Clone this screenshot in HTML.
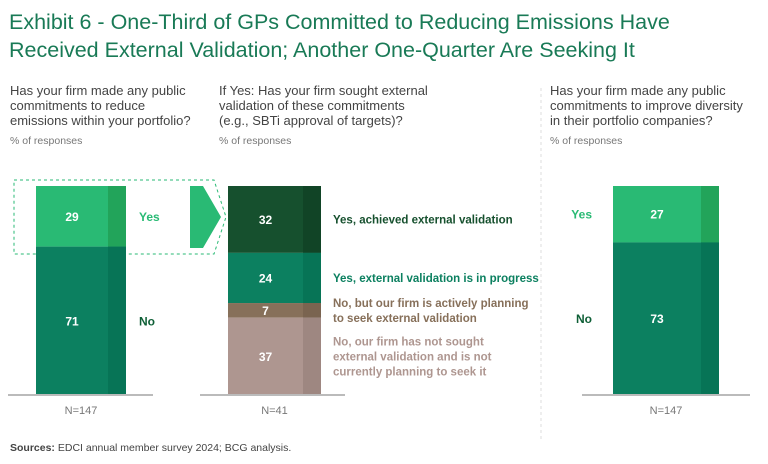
<!DOCTYPE html>
<html><head><meta charset="utf-8"><style>
body{margin:0;width:768px;height:464px;background:#fff;overflow:hidden;font-family:"Liberation Sans",sans-serif}
svg{display:block}
</style></head><body>
<svg id="c" width="768" height="464">
<text x="9" y="29" font-size="21.5" fill="#197a56">Exhibit 6 - One-Third of GPs Committed to Reducing Emissions Have</text>
<text x="9" y="57" font-size="21.5" fill="#197a56">Received External Validation; Another One-Quarter Are Seeking It</text>
<g font-size="13" fill="#444">
<text x="10" y="95">Has your firm made any public</text><text x="10" y="110">commitments to reduce</text><text x="10" y="125">emissions within your portfolio?</text></g>
<text x="10" y="144" font-size="10.5" fill="#777">% of responses</text>
<g font-size="13" fill="#444">
<text x="219" y="95">If Yes: Has your firm sought external</text><text x="219" y="110">validation of these commitments</text><text x="219" y="125">(e.g., SBTi approval of targets)?</text></g>
<text x="219" y="144" font-size="10.5" fill="#777">% of responses</text>
<g font-size="13" fill="#444">
<text x="550" y="95">Has your firm made any public</text><text x="550" y="110">commitments to improve diversity</text><text x="550" y="125">in their portfolio companies?</text></g>
<text x="550" y="144" font-size="10.5" fill="#777">% of responses</text>
<line x1="541" y1="88" x2="541" y2="442" stroke="#ddd" stroke-dasharray="3,3"/>
<path d="M14 180 H214 L226 217 L214 254 H14 Z" fill="none" stroke="#29ba74" stroke-dasharray="3,3"/>
<path d="M190 186 H203 L221 217 L203 248 H190 Z" fill="#29ba74"/>
<g id="bars"></g>
<text x="10" y="451" font-size="10.5" fill="#444"><tspan font-weight="bold">Sources:</tspan> EDCI annual member survey 2024; BCG analysis.</text>
</svg>
<script>
const bar1Values=[29,71];
const bar1Labels=["Yes","No"];
const bar2Values=[32,24,7,37];
const bar2Labels=[["Yes, achieved external validation"],["Yes, external validation is in progress"],["No, but our firm is actively planning","to seek external validation"],["No, our firm has not sought","external validation and is not","currently planning to seek it"]];
const bar3Values=[27,73];
const bar3Labels=["Yes","No"];
const nLabels=["N=147","N=41","N=147"];
const NS="http://www.w3.org/2000/svg";
const g=document.getElementById('bars');
const top0=186,bot=395;
const y=v=>top0+(bot-top0)*v/100;
function mk(t,a){const e=document.createElementNS(NS,t);for(const k in a)e.setAttribute(k,a[k]);g.appendChild(e);return e;}
function bar(vals,x,w,cols,shade,nl,bx1,bx2,idx){
 let c=0;const mids=[];
 vals.forEach((v,i)=>{
  const r=mk('rect',{x:x,y:y(c),width:w,height:y(c+v)-y(c),fill:cols[i]});
  
  
  const s=mk('rect',{x:x+w-18,y:y(c),width:18,height:y(c+v)-y(c),fill:shade[i]});
  
  
  const m=(y(c)+y(c+v))/2;mids.push(m);
  const t=mk('text',{x:x+(w-18)/2,y:m+4.5,'font-size':12,'font-weight':'bold',fill:'#fff','text-anchor':'middle'});
  t.textContent=v;
  
  
  c+=v;});
 const b=mk('line',{x1:bx1,x2:bx2,y1:bot,y2:bot,stroke:'#bbb','stroke-width':2});
 
 
 const n=mk('text',{x:x+w/2,y:414,'font-size':11,fill:'#777','text-anchor':'middle'});
 n.textContent=nl;
 
 
 return mids;}
let m1=bar(bar1Values,36,90,['#29ba74','#0c8060'],['#22a45a','#077456'],nLabels[0],8,153,1);
['#29ba74','#0e5f36'].forEach((col,i)=>{const t=mk('text',{x:139,y:m1[i]+4.5,'font-size':12,'font-weight':'bold',fill:col});t.textContent=bar1Labels[i];
 
 });
let m2=bar(bar2Values,228,93,['#16502e','#0c8060','#87705a','#ae9690'],['#114426','#077456','#7a6450','#9e8781'],nLabels[1],200,345,2);
const c2=['#16502e','#0c8060','#87705a','#ae9690'];
bar2Labels.forEach((ls,i)=>{const t=mk('text',{x:333,'font-size':11.5,'font-weight':'bold',fill:c2[i]});
 const y0=m2[i]+4-(ls.length-1)*7.5;
 ls.forEach((l,j)=>{const s=document.createElementNS(NS,'tspan');s.setAttribute('x',333);s.setAttribute('y',y0+j*15);s.textContent=l;t.appendChild(s);});
 
 });
let m3=bar(bar3Values,613,106,['#29ba74','#0c8060'],['#22a45a','#077456'],nLabels[2],582,750,3);
['#29ba74','#0e5f36'].forEach((col,i)=>{const t=mk('text',{x:592,y:m3[i]+4.5,'font-size':12,'font-weight':'bold',fill:col,'text-anchor':'end'});t.textContent=bar3Labels[i];
 
 });
</script>
</body></html>
